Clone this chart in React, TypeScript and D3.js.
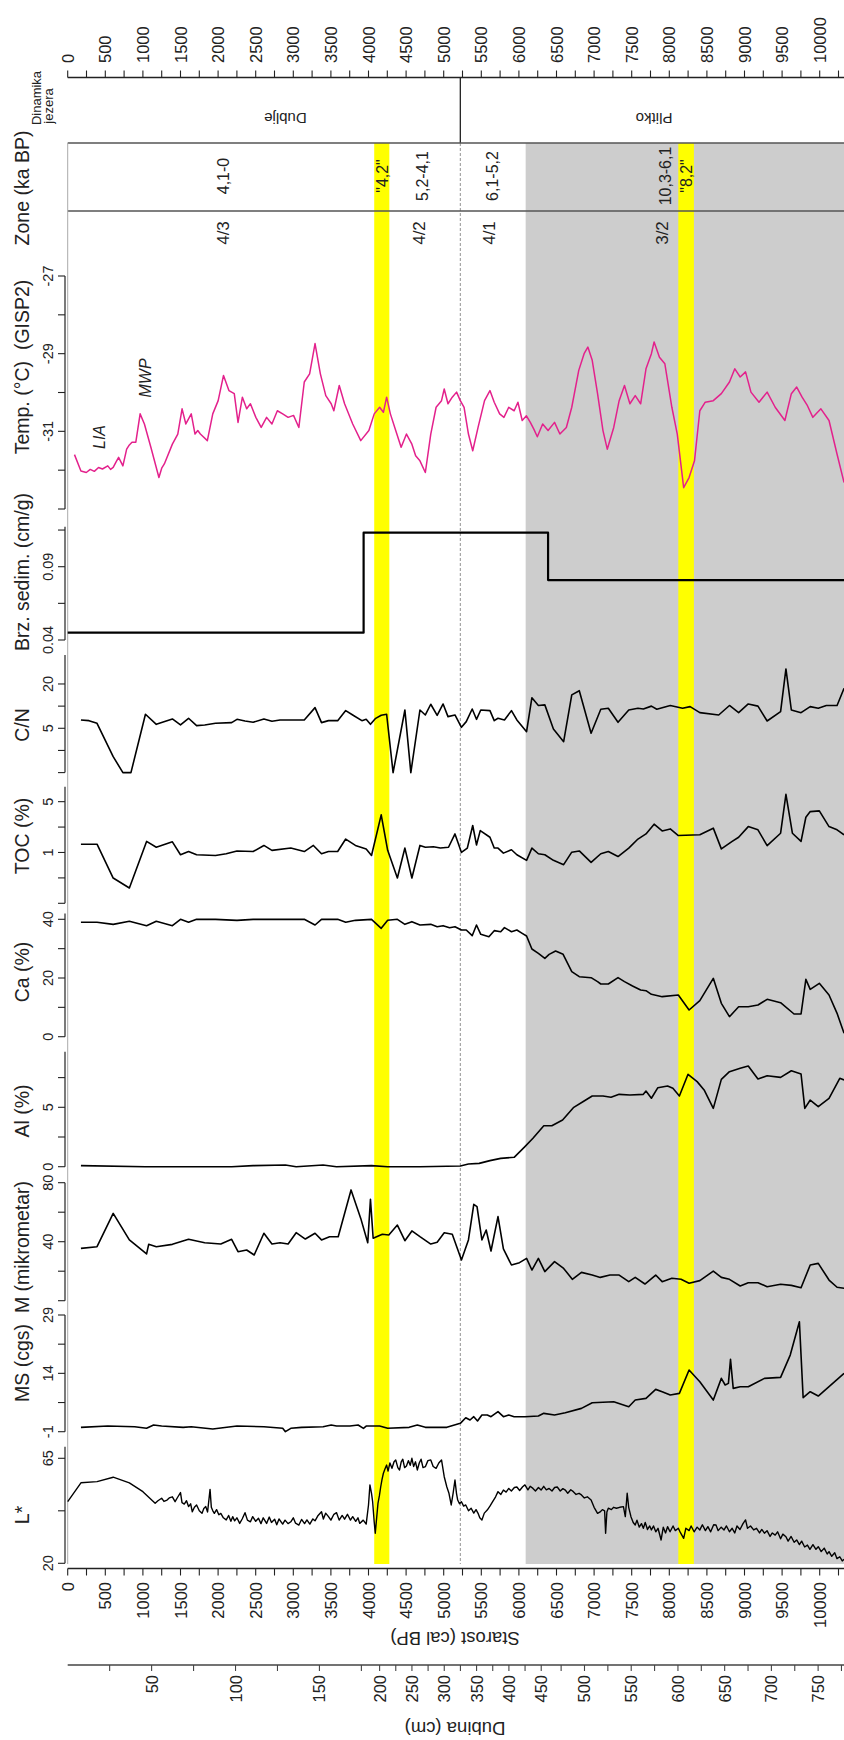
import React from 'react';
import * as d3 from 'd3';

const FONT = "'Liberation Sans', Arial, Helvetica, sans-serif";

// ---------- axis labels ----------
const ageLabels = [0, 500, 1000, 1500, 2000, 2500, 3000, 3500, 4000, 4500, 5000, 5500, 6000, 6500, 7000, 7500, 8000, 8500, 9000, 9500, 10000];
const ageTickStep = 250;
const depthLabels = [50, 100, 150, 200, 250, 300, 350, 400, 450, 500, 550, 600, 650, 700, 750];
const depthTieDepth = [0, 177, 462, 750, 800];
const depthTieAge = [0, 3950, 6400, 9979, 10600];

// ---------- events / zones ----------
const grayStart = 6090;
const yellowBands = [[4076, 4277], [8120, 8327]];
const dashedAge = 5221;
const dynLabels = [{ age: 2895, text: 'Dublje' }, { age: 7798, text: 'Plitko' }];
const kaLabels = [
  { age: 2072, text: '4,1-0' },
  { age: 4183, text: '"4,2"' },
  { age: 4720, text: '5,2-4,1' },
  { age: 5651, text: '6,1-5,2' },
  { age: 7955, text: '10,3-6,1' },
  { age: 8227, text: '"8,2"' },
];
const zoneLabels = [
  { age: 2072, text: '4/3' },
  { age: 4684, text: '4/2' },
  { age: 5615, text: '4/1' },
  { age: 7905, text: '3/2' },
];

// ---------- series ----------
const tempData = [
  [90, -31.6], [176, -32.02], [247, -32.06], [300, -31.98], [354, -32.03], [410, -31.93], [462, -31.97], [533, -31.89], [570, -31.98], [605, -31.93], [640, -31.8], [677, -31.67], [734, -31.89], [784, -31.46], [820, -31.35], [855, -31.28], [906, -31.28], [963, -30.55], [1020, -30.81], [1106, -31.41], [1213, -32.19], [1250, -31.95], [1285, -31.84], [1392, -31.33], [1464, -31.07], [1521, -30.42], [1571, -30.81], [1643, -30.55], [1693, -31.07], [1730, -30.98], [1764, -31.07], [1857, -31.24], [1929, -30.55], [2001, -30.21], [2072, -29.56], [2144, -29.95], [2215, -30.03], [2265, -30.77], [2323, -30.12], [2380, -30.42], [2430, -30.29], [2502, -30.64], [2573, -30.9], [2645, -30.64], [2716, -30.81], [2788, -30.47], [2859, -30.55], [2931, -30.64], [3003, -30.59], [3074, -30.9], [3146, -29.73], [3217, -29.52], [3289, -28.74], [3360, -29.52], [3432, -30.08], [3504, -30.29], [3539, -30.47], [3611, -29.82], [3682, -30.29], [3790, -30.81], [3897, -31.24], [4005, -30.98], [4076, -30.55], [4148, -30.38], [4198, -30.51], [4241, -30.12], [4291, -30.55], [4362, -30.98], [4434, -31.41], [4505, -31.07], [4577, -31.33], [4627, -31.63], [4684, -31.76], [4756, -32.06], [4828, -31.07], [4899, -30.38], [4971, -30.21], [5007, -29.91], [5057, -30.29], [5114, -30.12], [5171, -29.99], [5221, -30.21], [5271, -30.38], [5329, -31.07], [5386, -31.5], [5457, -30.9], [5543, -30.21], [5615, -29.95], [5672, -30.25], [5744, -30.55], [5801, -30.64], [5865, -30.38], [5937, -30.47], [5987, -30.25], [6044, -30.72], [6100, -30.6], [6152, -30.77], [6200, -30.95], [6245, -31.14], [6316, -30.81], [6388, -30.98], [6474, -30.77], [6545, -31.07], [6631, -30.9], [6703, -30.38], [6796, -29.43], [6867, -29.0], [6917, -28.83], [6975, -29.17], [7046, -30.03], [7118, -30.98], [7175, -31.46], [7261, -30.9], [7333, -30.21], [7404, -29.82], [7476, -30.29], [7547, -30.08], [7619, -30.29], [7690, -29.39], [7762, -29.0], [7798, -28.7], [7869, -29.09], [7941, -29.26], [8034, -30.38], [8106, -31.07], [8191, -32.45], [8263, -32.19], [8335, -31.76], [8406, -30.47], [8478, -30.25], [8585, -30.21], [8692, -30.03], [8800, -29.73], [8871, -29.39], [8943, -29.6], [9014, -29.47], [9086, -29.99], [9193, -30.25], [9301, -29.99], [9408, -30.38], [9537, -30.72], [9623, -30.03], [9694, -29.86], [9766, -30.12], [9837, -30.34], [9909, -30.64], [10016, -30.42], [10124, -30.72], [10231, -31.59], [10324, -32.32],
];

const sedData = [[0, 0.045], [3935, 0.1132], [6388, 0.0809], [10400, 0.0809]];

const cnData = [
  [176, 6.49], [283, 6.35], [390, 5.84], [605, 2.06], [734, 0], [841, 0], [1034, 7.75], [1178, 5.66], [1392, 6.69], [1500, 5.55], [1607, 6.84], [1714, 5.43], [1822, 5.55], [1965, 5.84], [2180, 5.97], [2251, 6.62], [2358, 6.28], [2466, 6.03], [2609, 6.69], [2716, 6.22], [2824, 6.49], [3146, 6.49], [3289, 9.54], [3375, 5.97], [3468, 6.35], [3590, 6.35], [3697, 8.69], [3790, 7.58], [3912, 6.35], [3969, 6.62], [4026, 5.66], [4090, 6.76], [4169, 7.5], [4241, 7.75], [4327, 0], [4484, 8.86], [4563, 0], [4684, 8.86], [4756, 7.58], [4828, 10.6], [4913, 7.5], [4992, 10.7], [5057, 7.2], [5150, 7.58], [5236, 5.15], [5300, 6.16], [5379, 9.15], [5436, 6.62], [5493, 8.86], [5615, 8.69], [5672, 6.35], [5722, 6.84], [5808, 6.49], [5901, 8.69], [5973, 6.49], [6102, 4.5], [6173, 13.0], [6259, 10.2], [6345, 10.4], [6459, 4.9], [6595, 3.29], [6703, 14.2], [6803, 16.2], [6960, 4.28], [7089, 9.06], [7189, 9.34], [7318, 6.03], [7461, 8.86], [7583, 9.34], [7655, 9.15], [7762, 10.0], [7834, 9.06], [8013, 10.2], [8177, 9.34], [8277, 9.84], [8406, 8.15], [8657, 7.58], [8800, 10.2], [8922, 8.15], [9050, 10.7], [9179, 10.0], [9301, 6.28], [9480, 8.42], [9551, 32.0], [9623, 8.86], [9752, 8.15], [9874, 9.84], [9981, 9.34], [10088, 10.2], [10231, 10.2], [10324, 17.5],
];

const tocData = [
  [176, 1.3], [390, 1.3], [605, 0.445], [820, 0.325], [1049, 1.42], [1178, 1.18], [1392, 1.4], [1500, 0.93], [1607, 1.03], [1714, 0.93], [1965, 0.91], [2108, 0.96], [2251, 1.05], [2466, 1.03], [2609, 1.25], [2716, 1.07], [2967, 1.15], [3146, 1.03], [3267, 1.25], [3375, 0.96], [3468, 1.03], [3590, 1.03], [3697, 1.53], [3826, 1.25], [3969, 1.12], [4040, 0.91], [4169, 3.29], [4255, 1.07], [4384, 0.445], [4484, 1.15], [4577, 0.445], [4684, 1.25], [4756, 1.18], [4863, 1.2], [4956, 1.15], [5064, 1.18], [5150, 1.8], [5236, 1.0], [5314, 1.15], [5386, 2.35], [5436, 1.27], [5486, 2.0], [5615, 1.62], [5672, 1.15], [5722, 1.15], [5794, 0.98], [5901, 1.09], [5973, 0.93], [6102, 0.78], [6173, 1.15], [6259, 0.96], [6345, 0.93], [6459, 0.78], [6595, 0.68], [6703, 1.01], [6803, 1.05], [6960, 0.73], [7089, 0.96], [7189, 1.03], [7318, 0.88], [7461, 1.15], [7583, 1.53], [7690, 1.8], [7798, 2.45], [7905, 1.98], [8013, 2.11], [8120, 1.71], [8406, 1.75], [8585, 2.16], [8692, 1.12], [8836, 1.42], [8922, 1.62], [9050, 2.27], [9179, 2.05], [9301, 1.24], [9480, 1.84], [9551, 6.31], [9637, 1.84], [9752, 1.42], [9816, 3.05], [9874, 3.65], [9995, 3.73], [10124, 2.27], [10231, 2.05], [10324, 1.75],
];

const caData = [
  [176, 38.97], [390, 38.97], [605, 38.28], [820, 39.31], [1049, 37.83], [1178, 39.31], [1392, 37.83], [1500, 39.99], [1607, 38.97], [1714, 39.99], [1965, 39.99], [2251, 39.65], [2466, 39.99], [3146, 39.99], [3289, 38.06], [3375, 39.99], [3590, 39.99], [3697, 38.97], [3826, 39.65], [4040, 39.99], [4169, 36.92], [4255, 39.65], [4384, 39.99], [4484, 38.28], [4577, 39.19], [4684, 38.06], [4828, 38.28], [4913, 37.49], [4992, 37.83], [5078, 37.15], [5150, 37.49], [5236, 36.35], [5300, 36.35], [5379, 34.42], [5436, 38.06], [5493, 34.88], [5601, 34.08], [5672, 36.13], [5758, 35.78], [5808, 37.15], [5901, 35.78], [5973, 36.35], [6044, 35.22], [6102, 34.31], [6173, 29.88], [6259, 28.41], [6345, 26.7], [6402, 28.06], [6488, 29.2], [6588, 28.06], [6703, 22.16], [6803, 20.45], [6960, 20.11], [7046, 18.75], [7089, 17.96], [7189, 17.96], [7318, 20.11], [7404, 18.75], [7511, 17.27], [7619, 15.91], [7690, 15.68], [7762, 14.44], [7905, 13.64], [8120, 14.21], [8263, 9.1], [8406, 12.28], [8585, 19.89], [8692, 11.37], [8800, 6.82], [8922, 10.23], [9050, 10.23], [9179, 10.8], [9301, 12.73], [9480, 11.59], [9659, 7.73], [9752, 7.73], [9816, 19.55], [9874, 16.14], [9995, 18.18], [10124, 14.21], [10231, 7.96], [10324, 1.15],
];

const alData = [
  [176, 0.09], [1034, 0.0], [1464, 0.0], [2180, 0.0], [2466, 0.09], [2895, 0.14], [3038, 0.0], [3396, 0.14], [3575, 0.0], [4040, 0.09], [4255, 0.0], [4684, 0.0], [5221, 0.06], [5329, 0.23], [5472, 0.28], [5615, 0.51], [5758, 0.7], [5937, 0.79], [6080, 1.69], [6187, 2.39], [6331, 3.45], [6438, 3.45], [6581, 3.93], [6724, 4.97], [6867, 5.53], [6975, 5.95], [7118, 5.95], [7225, 5.84], [7333, 6.09], [7476, 6.04], [7655, 6.09], [7690, 6.37], [7762, 5.76], [7848, 6.65], [7977, 6.79], [8048, 6.6], [8134, 5.95], [8249, 7.78], [8370, 7.16], [8463, 6.46], [8585, 4.91], [8692, 7.35], [8800, 8.0], [8943, 8.28], [9050, 8.48], [9179, 7.38], [9301, 7.66], [9480, 7.52], [9623, 8.08], [9752, 7.8], [9802, 4.91], [9874, 5.61], [9981, 5.05], [10124, 5.76], [10267, 7.44], [10324, 7.3],
];

const mData = [
  [176, 35.5], [390, 36.6], [605, 59.2], [820, 41.2], [1049, 31.7], [1077, 38.2], [1178, 36.6], [1392, 38.2], [1607, 41.6], [1822, 39.3], [2036, 38.4], [2180, 41.6], [2265, 33.2], [2380, 34.4], [2480, 31.0], [2609, 45.7], [2716, 38.4], [2824, 39.3], [2931, 38.4], [3038, 46.1], [3160, 41.8], [3289, 45.7], [3375, 41.2], [3482, 43.4], [3597, 43.4], [3768, 75.1], [3897, 55.8], [3990, 39.3], [4026, 68.7], [4062, 42.3], [4184, 45.0], [4270, 44.5], [4384, 51.3], [4484, 40.7], [4577, 47.3], [4684, 43.4], [4828, 38.4], [4913, 39.6], [5007, 46.1], [5114, 45.0], [5236, 27.6], [5329, 41.2], [5400, 65.3], [5443, 63.8], [5508, 41.2], [5565, 47.9], [5629, 33.7], [5722, 57.0], [5794, 35.1], [5901, 24.2], [6008, 25.8], [6102, 28.7], [6173, 20.8], [6259, 28.7], [6345, 19.7], [6474, 26.5], [6595, 21.9], [6710, 14.5], [6832, 19.2], [6975, 17.4], [7082, 15.8], [7211, 17.4], [7333, 17.4], [7461, 12.9], [7547, 15.8], [7676, 11.3], [7819, 17.4], [7905, 12.9], [8034, 15.2], [8156, 14.5], [8263, 11.8], [8406, 13.6], [8585, 20.1], [8692, 15.8], [8800, 14.5], [8943, 10.0], [9050, 12.2], [9179, 12.2], [9301, 9.5], [9480, 11.1], [9623, 10.4], [9752, 8.8], [9874, 24.2], [9981, 25.3], [10124, 14.0], [10231, 9.1], [10324, 8.4],
];

const msData = [
  [176, 0.12], [533, 0.46], [891, 0.29], [1049, -0.13], [1142, 0.72], [1249, 0.46], [1535, 0.12], [1643, 0.29], [1929, -0.31], [2251, 0.46], [2609, 0.29], [2859, -0.13], [2895, -0.99], [2967, -0.13], [3110, 0.12], [3396, 0.29], [3504, 0.72], [3575, 0.46], [3754, 0.46], [3862, 0.72], [3933, -0.13], [3969, 0.46], [4148, 0.46], [4255, -0.13], [4541, 0.12], [4649, 0.72], [4756, 0.12], [5042, 0.12], [5221, 1.15], [5293, 2.6], [5350, 2.01], [5400, 2.86], [5450, 1.75], [5508, 3.29], [5580, 3.29], [5629, 2.86], [5722, 4.15], [5794, 2.86], [5865, 3.29], [5937, 2.86], [6080, 2.86], [6259, 3.03], [6331, 3.72], [6474, 3.29], [6617, 3.89], [6832, 5.0], [6975, 6.46], [7261, 6.71], [7461, 5.43], [7547, 7.14], [7690, 7.57], [7819, 9.88], [7905, 9.28], [8013, 8.43], [8134, 8.86], [8263, 14.85], [8406, 11.85], [8585, 7.14], [8692, 12.71], [8743, 11.0], [8786, 11.42], [8814, 17.59], [8850, 10.14], [8943, 10.57], [9050, 10.57], [9265, 12.71], [9480, 12.97], [9608, 18.7], [9730, 27.26], [9780, 7.74], [9874, 9.28], [9981, 8.17], [10124, 10.57], [10324, 13.99],
];

const lData = [
  [0, 46.4], [176, 54.5], [390, 55.0], [605, 56.9], [820, 54.5], [1000, 50.7], [1163, 45.7], [1200, 46.8], [1249, 47.9], [1280, 46.5], [1321, 47.1], [1350, 48.0], [1392, 48.5], [1428, 46.4], [1460, 48.2], [1500, 50.3], [1520, 46.0], [1550, 45.4], [1580, 46.8], [1607, 44.3], [1635, 45.5], [1657, 42.1], [1685, 44.0], [1714, 45.0], [1750, 42.5], [1786, 41.4], [1810, 43.5], [1836, 44.3], [1860, 42.0], [1893, 51.7], [1910, 44.0], [1930, 42.5], [1950, 41.4], [1980, 43.0], [2010, 40.8], [2036, 41.4], [2070, 39.5], [2108, 38.6], [2140, 40.5], [2170, 38.0], [2194, 40.0], [2220, 38.2], [2250, 39.5], [2287, 37.1], [2320, 39.0], [2358, 41.7], [2390, 38.5], [2430, 37.8], [2460, 40.0], [2500, 38.0], [2537, 39.3], [2570, 37.0], [2600, 39.5], [2645, 37.1], [2680, 39.8], [2710, 37.5], [2752, 38.9], [2780, 36.5], [2810, 39.0], [2859, 36.8], [2890, 38.5], [2930, 37.0], [2967, 37.8], [3000, 39.5], [3030, 37.2], [3074, 36.4], [3110, 38.8], [3150, 37.0], [3181, 38.6], [3220, 36.8], [3260, 39.0], [3289, 38.2], [3330, 40.5], [3375, 42.1], [3400, 39.0], [3430, 41.5], [3468, 40.0], [3500, 38.5], [3540, 41.0], [3575, 41.7], [3610, 38.5], [3650, 40.5], [3682, 38.9], [3720, 41.0], [3760, 38.5], [3790, 40.0], [3830, 38.0], [3860, 39.5], [3883, 37.1], [3930, 38.5], [3969, 36.8], [4000, 45.0], [4019, 53.6], [4040, 50.0], [4055, 46.4], [4075, 38.0], [4090, 32.9], [4110, 40.0], [4126, 45.7], [4145, 49.0], [4162, 52.7], [4180, 56.0], [4198, 58.6], [4220, 60.5], [4241, 62.1], [4260, 59.5], [4285, 63.0], [4312, 60.7], [4340, 63.5], [4362, 64.3], [4390, 61.0], [4413, 60.0], [4435, 63.5], [4456, 64.6], [4480, 61.0], [4505, 61.7], [4530, 64.0], [4555, 62.0], [4577, 65.0], [4600, 61.5], [4625, 63.5], [4649, 60.0], [4675, 63.0], [4699, 64.6], [4725, 61.0], [4756, 61.4], [4790, 64.0], [4828, 64.3], [4860, 61.5], [4899, 60.7], [4935, 63.0], [4971, 64.3], [5007, 57.1], [5042, 52.7], [5070, 50.0], [5100, 45.0], [5125, 50.0], [5150, 55.7], [5170, 50.0], [5186, 47.1], [5210, 45.5], [5236, 46.4], [5265, 44.5], [5293, 45.0], [5330, 42.5], [5365, 43.6], [5400, 41.5], [5430, 43.0], [5457, 41.4], [5480, 39.5], [5508, 38.6], [5540, 41.5], [5579, 42.8], [5615, 44.5], [5651, 46.4], [5690, 48.5], [5722, 50.7], [5760, 49.5], [5794, 51.4], [5830, 50.5], [5865, 52.1], [5900, 51.0], [5940, 52.5], [5973, 52.7], [6010, 51.2], [6050, 52.8], [6080, 53.6], [6120, 51.5], [6150, 53.0], [6187, 52.1], [6220, 51.0], [6260, 52.5], [6295, 51.4], [6330, 53.0], [6365, 51.5], [6402, 52.1], [6440, 51.0], [6475, 52.5], [6510, 52.7], [6550, 51.0], [6585, 52.0], [6617, 51.4], [6650, 50.0], [6690, 51.5], [6724, 50.7], [6760, 49.5], [6800, 50.0], [6832, 49.3], [6870, 48.0], [6910, 48.5], [6960, 47.1], [7000, 44.0], [7046, 41.4], [7080, 42.0], [7110, 43.0], [7140, 42.5], [7153, 32.9], [7170, 42.0], [7189, 43.6], [7230, 43.0], [7260, 44.0], [7297, 43.6], [7340, 44.0], [7390, 44.3], [7415, 40.0], [7440, 50.0], [7460, 44.0], [7490, 40.0], [7520, 37.5], [7547, 36.4], [7570, 38.5], [7600, 35.5], [7630, 37.0], [7655, 35.0], [7680, 37.5], [7710, 34.5], [7740, 36.0], [7762, 34.3], [7790, 36.0], [7820, 33.5], [7850, 35.0], [7891, 30.0], [7920, 35.5], [7950, 33.0], [7977, 35.7], [8010, 33.5], [8050, 36.0], [8080, 34.0], [8120, 35.0], [8150, 33.0], [8191, 30.7], [8220, 35.0], [8263, 34.0], [8290, 36.0], [8330, 33.5], [8370, 35.5], [8406, 34.3], [8440, 36.5], [8480, 34.0], [8513, 35.7], [8550, 33.5], [8590, 36.5], [8621, 36.4], [8650, 34.0], [8690, 35.5], [8728, 34.3], [8760, 36.0], [8800, 33.5], [8836, 35.0], [8870, 33.0], [8900, 36.0], [8940, 34.5], [8980, 37.0], [9014, 38.6], [9040, 35.0], [9080, 36.0], [9122, 34.3], [9160, 35.0], [9200, 33.0], [9230, 34.5], [9265, 32.9], [9300, 34.0], [9340, 31.5], [9370, 33.0], [9408, 32.1], [9440, 33.5], [9480, 30.5], [9510, 32.5], [9551, 31.4], [9580, 29.5], [9620, 31.5], [9660, 29.0], [9694, 30.0], [9730, 28.0], [9760, 29.5], [9800, 27.0], [9837, 27.8], [9870, 26.0], [9910, 28.0], [9950, 26.0], [9981, 27.1], [10020, 25.0], [10060, 26.5], [10100, 24.0], [10124, 25.0], [10160, 23.0], [10200, 24.5], [10230, 22.0], [10267, 22.8], [10300, 21.0], [10324, 21.7],
];

// ---------- panel axis definitions ----------
const tempTicks = [-33, -32, -31, -30, -29, -28, -27];
const tempTickLabels = [-31, -29, -27];
const sedTicks = [0.04, 0.065, 0.09, 0.115];
const sedTickLabels = [0.04, 0.09];
const cnTicks = [1.25, 2.5, 5, 10, 20];
const cnTickLabels = [5, 20];
const tocTicks = [0.2, 0.447, 1, 2.236, 5];
const tocTickLabels = [1, 5];
const caTicks = [0, 10, 20, 30, 40];
const caTickLabels = [0, 20, 40];
const alTicks = [0, 2.5, 5, 7.5];
const alTickLabels = [0, 5];
const mTicks = [0, 20, 40, 60, 80];
const mTickLabels = [40, 80];
const msTicks = [-1, 6.5, 14, 21.5, 29];
const msTickLabels = [-1, 14, 29];
const lTicks = [20, 42.5, 65];
const lTickLabels = [20, 65];

const W = 844;
const H = 1740;
const PLOT_L = 67.7;
const AXIS_X = 65;
const TOP_AXIS_Y = 77.5;
const BOT_AXIS_Y = 1568.5;
const BAND1_Y = 143;
const BAND2_Y = 211;
const PLOT_BOTTOM = 1564;
const DEPTH_AXIS_Y = 1665;

function VText(props: any) {
  const { x, y, text, size = 15, anchor = 'middle', rotate = -90, italic = false, fill = '#222', baseline = 'central' } = props;
  return (
    <text
      transform={`translate(${x},${y}) rotate(${rotate})`}
      textAnchor={anchor}
      dominantBaseline={baseline}
      fontSize={size}
      fontStyle={italic ? 'italic' : 'normal'}
      fill={fill}
      style={{ whiteSpace: 'pre' }}
    >
      {text}
    </text>
  );
}

export default function App() {
  const x = d3.scaleLinear().domain([0, 10000]).range([PLOT_L, 819.7]);
  const depthToAge = d3.scaleLinear().domain(depthTieDepth).range(depthTieAge);

  const panels = [
    { id: 'temp', label: 'Temp. (°C)  (GISP2)', labelY: 367, scale: d3.scaleLinear().domain([-33, -27]).range([509, 276]), ext: [-33, -27], ticks: tempTicks, tl: tempTickLabels, data: tempData, color: '#e3218c', w: 1.5, fmt: (v: number) => String(v) },
    { id: 'sed', label: 'Brz. sedim. (cm/g)', labelY: 572, scale: d3.scaleLinear().domain([0.04, 0.09]).range([640, 566.7]), ext: [0.04, 0.1173], ticks: sedTicks, tl: sedTickLabels, data: sedData, color: '#000', w: 2.2, step: true, fmt: (v: number) => v.toFixed(2) },
    { id: 'cn', label: 'C/N', labelY: 725, scale: d3.scaleLog().domain([1.25, 49.5]).range([772.6, 655]), ext: [1.25, 49.5], ticks: cnTicks, tl: cnTickLabels, data: cnData, color: '#000', w: 1.6, minV: 1.25, fmt: (v: number) => String(v) },
    { id: 'toc', label: 'TOC (%)', labelY: 836, scale: d3.scaleLog().domain([0.2, 8.03]).range([903.3, 786.7]), ext: [0.2, 8.03], ticks: tocTicks, tl: tocTickLabels, data: tocData, color: '#000', w: 1.6, minV: 0.2, fmt: (v: number) => String(v) },
    { id: 'ca', label: 'Ca (%)', labelY: 972, scale: d3.scaleLinear().domain([0, 40]).range([1036.7, 919.3]), ext: [0, 42], ticks: caTicks, tl: caTickLabels, data: caData, color: '#000', w: 1.6, fmt: (v: number) => String(v) },
    { id: 'al', label: 'Al (%)', labelY: 1111, scale: d3.scaleLinear().domain([0, 5]).range([1166.7, 1107.3]), ext: [0, 9.68], ticks: alTicks, tl: alTickLabels, data: alData, color: '#000', w: 1.6, fmt: (v: number) => String(v) },
    { id: 'm', label: 'M (mikrometar)', labelY: 1247, scale: d3.scaleLinear().domain([0, 80]).range([1300.7, 1182.7]), ext: [0, 80], ticks: mTicks, tl: mTickLabels, data: mData, color: '#000', w: 1.6, fmt: (v: number) => String(v) },
    { id: 'ms', label: 'MS (cgs)', labelY: 1363, scale: d3.scaleLinear().domain([-1, 29]).range([1431.7, 1315]), ext: [-1, 29], ticks: msTicks, tl: msTickLabels, data: msData, color: '#000', w: 1.6, fmt: (v: number) => String(v) },
    { id: 'l', label: 'L*', labelY: 1515, scale: d3.scaleLinear().domain([20, 65]).range([1563.3, 1458.3]), ext: [20, 70], ticks: lTicks, tl: lTickLabels, data: lData, color: '#000', w: 1.4, fmt: (v: number) => String(v) },
  ];

  const ageTicks = d3.range(0, 10300, ageTickStep);
  const depthTicks = d3.range(25, 800, 25).filter((d) => x(depthToAge(d)) <= W);

  const xGray = x(grayStart);

  return (
    <svg
      width={W}
      height={H}
      viewBox={`0 0 ${W} ${H}`}
      style={{ position: 'absolute', left: 0, top: 0, background: '#fff', overflow: 'hidden' }}
      fontFamily={FONT}
    >
      <rect x={0} y={0} width={W} height={H} fill="#fff" />

      {/* gray shallow-phase band */}
      <rect x={xGray} y={BAND1_Y} width={W - xGray} height={PLOT_BOTTOM - BAND1_Y} fill="#cdcdcd" />
      {/* yellow events */}
      {yellowBands.map(([a, b], i) => (
        <rect key={i} x={x(a)} y={BAND1_Y} width={x(b) - x(a)} height={PLOT_BOTTOM - BAND1_Y} fill="#ffff00" />
      ))}
      {/* dashed zone boundary */}
      <line x1={x(dashedAge)} x2={x(dashedAge)} y1={BAND1_Y} y2={PLOT_BOTTOM} stroke="#777" strokeWidth={0.8} strokeDasharray="3,2" />
      {/* lake dynamics divider */}
      <line x1={x(dashedAge)} x2={x(dashedAge)} y1={TOP_AXIS_Y} y2={BAND1_Y} stroke="#222" strokeWidth={1.3} />

      {/* band lines */}
      <line x1={PLOT_L} x2={W} y1={BAND1_Y} y2={BAND1_Y} stroke="#555" strokeWidth={1.6} />
      <line x1={PLOT_L} x2={W} y1={BAND2_Y} y2={BAND2_Y} stroke="#555" strokeWidth={1.6} />
      <line x1={PLOT_L} x2={PLOT_L} y1={BAND1_Y} y2={PLOT_BOTTOM} stroke="#aaa" strokeWidth={1} />

      {/* top age axis */}
      <line x1={PLOT_L} x2={W} y1={TOP_AXIS_Y} y2={TOP_AXIS_Y} stroke="#222" strokeWidth={1.3} />
      {ageTicks.map((t) => (
        <line key={'tt' + t} x1={x(t)} x2={x(t)} y1={TOP_AXIS_Y} y2={TOP_AXIS_Y - 7} stroke="#222" strokeWidth={1.1} />
      ))}
      {ageLabels.map((t) => (
        <VText key={'tl' + t} x={x(t)} y={63} text={String(t)} size={16.5} anchor="start" />
      ))}

      {/* bottom age axis */}
      <line x1={PLOT_L} x2={W} y1={BOT_AXIS_Y} y2={BOT_AXIS_Y} stroke="#222" strokeWidth={1.3} />
      {ageTicks.map((t) => (
        <line key={'bt' + t} x1={x(t)} x2={x(t)} y1={BOT_AXIS_Y} y2={BOT_AXIS_Y + 7} stroke="#222" strokeWidth={1.1} />
      ))}
      {ageLabels.map((t) => (
        <VText key={'bl' + t} x={x(t)} y={1582} text={String(t)} size={16.5} anchor="end" />
      ))}
      <VText x={455} y={1638} text="Starost (cal BP)" size={18.5} rotate={180} />

      {/* depth axis */}
      <line x1={PLOT_L} x2={W} y1={DEPTH_AXIS_Y} y2={DEPTH_AXIS_Y} stroke="#444" strokeWidth={1.3} />
      {depthTicks.map((d) => (
        <line key={'dt' + d} x1={x(depthToAge(d))} x2={x(depthToAge(d))} y1={DEPTH_AXIS_Y} y2={DEPTH_AXIS_Y + 6} stroke="#444" strokeWidth={1.1} />
      ))}
      {depthLabels.map((d) => (
        <VText key={'dl' + d} x={x(depthToAge(d))} y={1675} text={String(d)} size={16.5} anchor="end" />
      ))}
      <VText x={455} y={1728} text="Dubina (cm)" size={18.5} rotate={180} />

      {/* lake dynamics band */}
      <VText x={36} y={98} text="Dinamika" size={13} />
      <VText x={48} y={106} text="jezera" size={13} />
      {dynLabels.map((d) => (
        <VText key={d.text} x={x(d.age)} y={118} text={d.text} size={15} rotate={180} />
      ))}

      {/* zone ka band */}
      <VText x={22} y={188} text="Zone (ka BP)" size={19.5} />
      {kaLabels.map((d) => (
        <VText key={d.text} x={x(d.age)} y={176} text={d.text} size={16} />
      ))}
      {zoneLabels.map((d) => (
        <VText key={d.text} x={x(d.age)} y={233} text={d.text} size={17} />
      ))}

      {/* panels */}
      {panels.map((p: any) => {
        const s = p.scale;
        const y0 = s(p.ext[0]);
        const y1 = s(p.ext[1]);
        const line = d3
          .line()
          .x((d: any) => x(d[0]))
          .y((d: any) => s(p.minV !== undefined ? Math.max(d[1], p.minV) : d[1]))
          .curve(p.step ? d3.curveStepAfter : d3.curveLinear);
        return (
          <g key={p.id}>
            <line x1={AXIS_X} x2={AXIS_X} y1={y0} y2={y1} stroke="#222" strokeWidth={1.2} />
            {p.ticks.map((t: number) => (
              <line key={t} x1={AXIS_X - 7} x2={AXIS_X} y1={s(t)} y2={s(t)} stroke="#222" strokeWidth={1.1} />
            ))}
            {p.tl.map((t: number) => (
              <VText key={'l' + t} x={48} y={s(t)} text={p.fmt(t)} size={14.5} />
            ))}
            <VText x={22} y={p.labelY} text={p.label} size={19.5} />
            <path d={line(p.data) || ''} fill="none" stroke={p.color} strokeWidth={p.w} strokeLinejoin="round" />
          </g>
        );
      })}

      {/* temperature annotations */}
      <VText x={99} y={437} text="LIA" size={16} italic />
      <VText x={145} y={378} text="MWP" size={16} italic />
    </svg>
  );
}
